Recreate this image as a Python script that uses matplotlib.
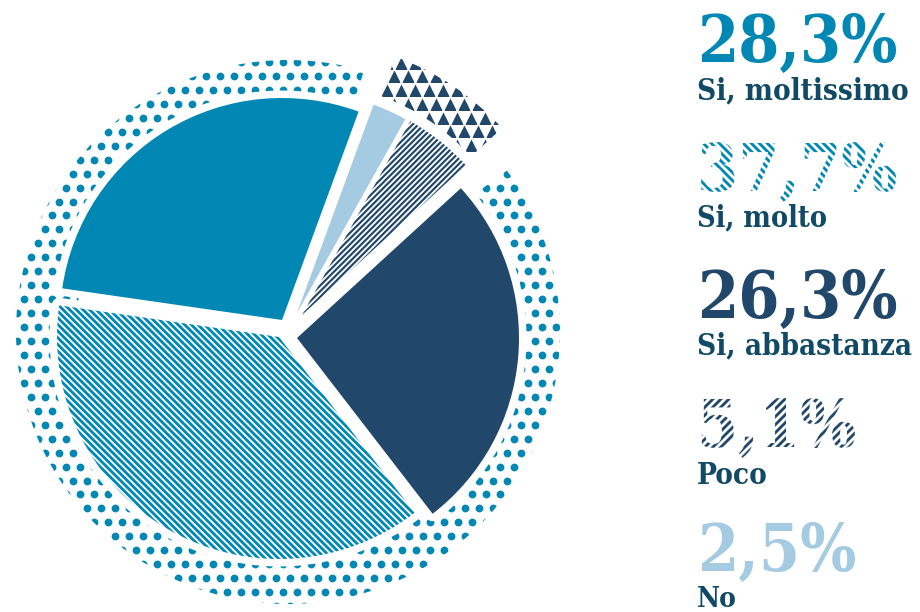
import numpy as np
import matplotlib
matplotlib.use("Agg")
import matplotlib.pyplot as plt
import matplotlib.patheffects as pe
from matplotlib.patches import Circle, Wedge

# survey answers (values in %)
labels = ["Si, moltissimo", "Si, molto", "Si, abbastanza", "Poco", "No"]
values = [28.3, 37.7, 26.3, 5.1, 2.5]
value_text = ["28,3%", "37,7%", "26,3%", "5,1%", "2,5%"]

# clockwise order of the slices, starting at the left
pie_order = [0, 4, 3, 2, 1]

TEAL = "#0087b4"
NAVY = "#21476a"
LIGHT = "#a5cbe3"
LABEL = "#114a66"

DPI = 120
plt.rcParams["hatch.linewidth"] = 1.7
plt.rcParams["font.family"] = ["DejaVu Serif"]

fig = plt.figure(figsize=(920 / DPI, 612 / DPI), dpi=DPI)
ax = fig.add_axes([0, 0, 1, 1])

cx, cy = 288, 280          # centre of the dotted ring (pixels, y up)
R = 222                    # pie radius
R_RING = 272               # outer radius of dotted ring

# per-slice shift of the wedge tips (pixels)
shift = {0: (-6, 12), 1: (-9, -5), 2: (9, -6), 3: (14, 17), 4: (9, 19)}
style = {
    0: dict(facecolor=TEAL, edgecolor=TEAL, linewidth=0),
    1: dict(facecolor="white", edgecolor=TEAL, linewidth=0, hatch="\\" * 6),
    2: dict(facecolor=NAVY, edgecolor=NAVY, linewidth=0),
    3: dict(facecolor="white", edgecolor=NAVY, linewidth=0, hatch="/" * 7),
    4: dict(facecolor=LIGHT, edgecolor=LIGHT, linewidth=0),
}

wedges, _ = ax.pie([values[i] for i in pie_order], startangle=171.8,
                   counterclock=False, radius=R, center=(cx, cy), frame=True)
by_idx = {}
for w, i in zip(wedges, pie_order):
    dx, dy = shift[i]
    w.set_center((cx + dx, cy + dy))
    w.set(**style[i])
    w.set_zorder(4)
    by_idx[i] = w
if hasattr(by_idx[3], "set_hatch_linewidth"):
    by_idx[3].set_hatch_linewidth(1.3)

# dotted ring: staggered lattice of dots clipped to a circle
step = 14.0
rows = np.arange(612 - 62, 0, -13.95)
xs, ys = [], []
for k, y in enumerate(rows):
    x0 = 2.7 if k % 2 == 0 else 9.7
    for x in np.arange(x0, 600, step):
        xs.append(x)
        ys.append(y)
ring = Circle((cx, cy), R_RING, transform=ax.transData)
dots = ax.scatter(xs, ys, s=(7.8 * 72 / DPI) ** 2, color=TEAL, lw=0, zorder=1)
dots.set_clip_path(ring)

# white margin around the pie that cuts the dots
ax.add_patch(Circle((cx, cy), R - 10, facecolor="white", edgecolor="none",
                    zorder=2))
for i, w in by_idx.items():
    m = Wedge(w.center, w.r, w.theta1, w.theta2, facecolor="white",
              edgecolor="white", linewidth=15 * 72 / DPI, joinstyle="round",
              zorder=2)
    ax.add_patch(m)

# gap in the ring where the triangle piece is pulled out
t_lo = by_idx[3].theta1
t_hi = by_idx[4].theta2
ax.add_patch(Wedge((cx, cy), R_RING + 20, t_lo - 6, t_hi + 4,
                   facecolor="white", edgecolor="none", zorder=2))

# pulled-out piece of the ring, filled with triangles
sector = Wedge((cx + 14, cy + 21), 271, t_lo, t_hi, width=42,
               transform=ax.transData)
txs, tys = [], []
for k, y in enumerate(np.arange(612 - 49, 400, -13.7)):
    x0 = 2.0 if k % 2 == 0 else 9.0
    for x in np.arange(x0 + 350, 560, step):
        txs.append(x)
        tys.append(y)
tri = ax.scatter(txs, tys, s=(12 * 72 / DPI) ** 2, marker="^", color=NAVY,
                 lw=0, zorder=3)
tri.set_clip_path(sector)

# right-hand legend
num_base = [62, 191, 318, 447, 571]
lab_base = [99, 226, 354, 484, 607]
lab_width = [211, 130, 215, 71, 40]
num_color = [TEAL, TEAL, NAVY, NAVY, LIGHT]
num_hatch = [None, "\\" * 5, None, "/" * 5, None]

labs = []
for i in range(len(values)):
    t = ax.text(697, 612 - num_base[i], value_text[i], fontsize=39.5,
                fontweight="bold", fontstretch="condensed",
                color=num_color[i], va="baseline", ha="left")
    if num_hatch[i]:
        t.set_color("white")
        t.set_path_effects([pe.PathPatchEffect(facecolor="white",
                                               edgecolor=num_color[i],
                                               linewidth=0,
                                               hatch=num_hatch[i])])
    t = ax.text(697, 612 - lab_base[i], labels[i], fontsize=17.5,
                fontweight="bold", fontstretch="condensed", color=LABEL,
                va="baseline", ha="left")
    labs.append((t, lab_width[i]))

# fit each label to the width it has in the original layout
renderer = fig.canvas.get_renderer()
for t, target in labs:
    w = t.get_window_extent(renderer).width
    t.set_fontsize(t.get_fontsize() * target / w)

ax.set_xlim(0, 920)
ax.set_ylim(0, 612)
ax.set_aspect("equal")
ax.axis("off")
fig.savefig("out.png", dpi=DPI)
